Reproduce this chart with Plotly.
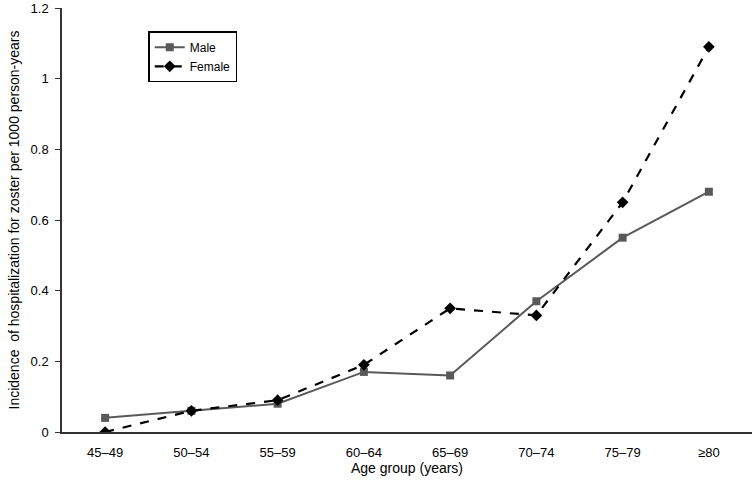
import plotly.graph_objects as go

age_groups = ["45–49", "50–54", "55–59", "60–64", "65–69", "70–74", "75–79", "≥80"]
male = [0.04, 0.06, 0.08, 0.17, 0.16, 0.37, 0.55, 0.68]
female = [0.00, 0.06, 0.09, 0.19, 0.35, 0.33, 0.65, 1.09]
y_ticks = [0, 0.2, 0.4, 0.6, 0.8, 1, 1.2]

FONT = "Liberation Sans, Arial, sans-serif"

fig = go.Figure()

fig.add_trace(go.Scatter(
    x=age_groups, y=male,
    mode="lines+markers",
    name="Male",
    line=dict(color="#595959", width=2),
    marker=dict(symbol="square", size=8, color="#595959"),
))

fig.add_trace(go.Scatter(
    x=age_groups, y=female,
    mode="lines+markers",
    name="Female",
    line=dict(color="black", width=2.2, dash="dash"),
    marker=dict(symbol="diamond", size=9, color="black"),
))

fig.update_layout(
    width=753, height=482,
    margin=dict(l=62, r=1, t=8, b=50),
    plot_bgcolor="white",
    paper_bgcolor="white",
    font=dict(family=FONT, size=13, color="black"),
    showlegend=True,
    legend=dict(
        x=0.125, y=0.945, xanchor="left", yanchor="top",
        bordercolor="black", borderwidth=1.5,
        bgcolor="white",
        font=dict(size=12),
        tracegroupgap=0,
        itemwidth=30,
    ),
    xaxis=dict(
        type="category",
        showline=True, linecolor="#333333", linewidth=1.5,
        ticks="", showgrid=False,
        ticklabelstandoff=8,
        range=[-0.5, 7.5],
        title=dict(text="Age group (years)", font=dict(size=14), standoff=4),
    ),
    yaxis=dict(
        range=[0, 1.2],
        tickvals=y_ticks,
        ticktext=["0", "0.2", "0.4", "0.6", "0.8", "1", "1.2"],
        showline=True, linecolor="#333333", linewidth=1.5,
        ticks="outside", ticklen=5, tickcolor="#333333",
        ticklabelstandoff=4,
        showgrid=False, zeroline=False,
        title=dict(text="Incidence  of hospitalization for zoster per 1000 person-years",
                   font=dict(size=14), standoff=8),
    ),
)

# drop the default page margin so the figure sits at the window's top-left corner
fig.write_html("out.html", config={"displayModeBar": False},
               post_script="document.body.style.margin='0';")
